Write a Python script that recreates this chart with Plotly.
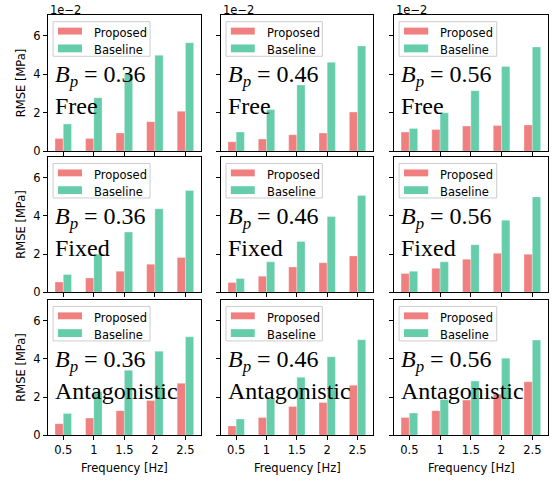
import plotly.graph_objects as go

# ---------------- data (RMSE in units of 1e-2 MPa) ----------------
freqs = [0.5, 1, 1.5, 2, 2.5]
freq_labels = ["0.5", "1", "1.5", "2", "2.5"]
bp_values = ["0.36", "0.46", "0.56"]
conditions = ["Free", "Fixed", "Antagonistic"]
series_names = ["Proposed", "Baseline"]

proposed_free_036 = [0.65, 0.65, 0.94, 1.53, 2.08]
baseline_free_036 = [1.41, 2.78, 4.02, 4.99, 5.64]
proposed_free_046 = [0.48, 0.63, 0.85, 0.94, 2.03]
baseline_free_046 = [0.99, 2.16, 3.44, 4.62, 5.47]
proposed_free_056 = [0.99, 1.12, 1.30, 1.33, 1.36]
baseline_free_056 = [1.18, 1.99, 3.14, 4.40, 5.42]

proposed_fixed_036 = [0.53, 0.75, 1.10, 1.47, 1.82]
baseline_fixed_036 = [0.93, 1.99, 3.15, 4.37, 5.33]
proposed_fixed_046 = [0.51, 0.84, 1.32, 1.54, 1.90]
baseline_fixed_046 = [0.72, 1.59, 2.66, 3.96, 5.07]
proposed_fixed_056 = [0.98, 1.25, 1.73, 2.04, 1.99]
baseline_fixed_056 = [1.10, 1.59, 2.49, 3.77, 4.99]

proposed_antag_036 = [0.61, 0.90, 1.29, 1.82, 2.72]
baseline_antag_036 = [1.14, 2.29, 3.40, 4.40, 5.15]
proposed_antag_046 = [0.49, 0.93, 1.51, 1.72, 2.62]
baseline_antag_046 = [0.85, 1.92, 3.03, 4.11, 5.00]
proposed_antag_056 = [0.93, 1.29, 1.84, 2.15, 2.80]
baseline_antag_056 = [1.16, 1.87, 2.84, 4.03, 4.98]

proposed = [
    [proposed_free_036, proposed_free_046, proposed_free_056],
    [proposed_fixed_036, proposed_fixed_046, proposed_fixed_056],
    [proposed_antag_036, proposed_antag_046, proposed_antag_056],
]
baseline = [
    [baseline_free_036, baseline_free_046, baseline_free_056],
    [baseline_fixed_036, baseline_fixed_046, baseline_fixed_056],
    [baseline_antag_036, baseline_antag_046, baseline_antag_056],
]

# ---------------- styling / layout ----------------
W, H = 557, 483
COL_PROP = "#F08080"
COL_BASE = "#66CDAA"
BAR_W = 0.135
FONT = "DejaVu Sans"
SERIF = "Liberation Serif"
FS = 11.5

col_px = [(48, 201), (221, 373), (394, 548)]
row_px = [(15.5, 153.3), (159.5, 296.5), (304.5, 441.7)]

fig = go.Figure()
annotations = []
shapes = []
layout = {}

for r in range(3):
    for c in range(3):
        idx = r * 3 + c + 1
        xs = "" if idx == 1 else str(idx)
        xa, ya = "x" + xs, "y" + xs
        fig.add_trace(go.Bar(x=freqs, y=proposed[r][c], name=series_names[0],
                             width=BAR_W, offset=-BAR_W, marker_color=COL_PROP,
                             marker_line=dict(color="white", width=0.3),
                             xaxis=xa, yaxis=ya, showlegend=False))
        fig.add_trace(go.Bar(x=freqs, y=baseline[r][c], name=series_names[1],
                             width=BAR_W, offset=0, marker_color=COL_BASE,
                             marker_line=dict(color="white", width=0.3),
                             xaxis=xa, yaxis=ya, showlegend=False))
        x0, x1 = col_px[c]
        y0, y1 = row_px[r]
        layout["xaxis" + xs] = dict(
            domain=[x0 / W, x1 / W], anchor=ya, range=[0.25, 2.755],
            tickvals=freqs, ticktext=freq_labels, showticklabels=(r == 2),
            ticks="outside", ticklen=4, tickwidth=1, tickcolor="black",
            showline=True, mirror=True, linecolor="black", linewidth=1,
            showgrid=False, zeroline=False,
            tickfont=dict(family=FONT, size=FS, color="black"))
        layout["yaxis" + xs] = dict(
            domain=[1 - y1 / H, 1 - y0 / H], anchor=xa, range=[0, 7.07],
            tickvals=[0, 2, 4, 6], showticklabels=(c == 0),
            ticks="outside", ticklen=4, tickwidth=1, tickcolor="black",
            showline=True, mirror=True, linecolor="black", linewidth=1,
            showgrid=False, zeroline=False,
            tickfont=dict(family=FONT, size=FS, color="black"))

        xd, yd = xa + " domain", ya + " domain"
        # legend box
        shapes.append(dict(type="rect", xref=xd, yref=yd, x0=0.033, x1=0.667,
                           y0=0.698, y1=0.953, fillcolor="rgba(255,255,255,0.8)",
                           line=dict(color="#CCCCCC", width=1), layer="above"))
        for k, (col, name) in enumerate(zip([COL_PROP, COL_BASE], series_names)):
            yt, yb = [(0.909, 0.858), (0.785, 0.727)][k]
            shapes.append(dict(type="rect", xref=xd, yref=yd, x0=0.065, x1=0.222,
                               y0=yb, y1=yt, fillcolor=col, line=dict(width=0),
                               layer="above"))
            annotations.append(dict(xref=xd, yref=yd, x=0.288, y=(yt + yb) / 2 - 0.013,
                                    text=name, showarrow=False, xanchor="left",
                                    yanchor="middle",
                                    font=dict(family=FONT, size=FS, color="black")))
        # B_p and condition text
        annotations.append(dict(xref=xd, yref=yd, x=0.035, y=0.55,
                                text="<i>B</i><sub><i>p</i></sub>\u2005=\u20050." + bp_values[c][2:],
                                showarrow=False, xanchor="left", yanchor="middle",
                                font=dict(family=SERIF, size=24, color="black")))
        annotations.append(dict(xref=xd, yref=yd, x=0.035, y=0.33,
                                text=conditions[r], showarrow=False, xanchor="left",
                                yanchor="middle",
                                font=dict(family=SERIF, size=24, color="black")))

# exponent labels, x titles
for c in range(3):
    annotations.append(dict(xref="paper", yref="paper", x=col_px[c][0] / W,
                            y=1 - 10 / H, text="1e\u22122", showarrow=False,
                            xanchor="left", yanchor="middle",
                            font=dict(family=FONT, size=FS, color="black")))
    annotations.append(dict(xref="paper", yref="paper",
                            x=(col_px[c][0] + col_px[c][1]) / 2 / W,
                            y=1 - 475 / H, text="Frequency [Hz]", showarrow=False,
                            xanchor="center", yanchor="middle",
                            font=dict(family=FONT, size=FS, color="black")))
for r in range(3):
    annotations.append(dict(xref="paper", yref="paper", x=21 / W,
                            y=1 - (row_px[r][0] + row_px[r][1]) / 2 / H,
                            text="RMSE [MPa]", showarrow=False, textangle=-90,
                            xanchor="center", yanchor="middle",
                            font=dict(family=FONT, size=FS, color="black")))

fig.update_layout(width=W, height=H, margin=dict(l=0, r=0, t=0, b=0),
                  paper_bgcolor="white", plot_bgcolor="white",
                  barmode="overlay", showlegend=False,
                  annotations=annotations, shapes=shapes, **layout)
post = ("var s=document.createElement('style');"
        "s.innerHTML='html,body{margin:0;padding:0;overflow:hidden;width:557px;height:483px;}"
        "body>div{height:483px;overflow:hidden;}';"
        "document.head.appendChild(s);")
fig.write_html("out.html", config={"displayModeBar": False}, post_script=post)
